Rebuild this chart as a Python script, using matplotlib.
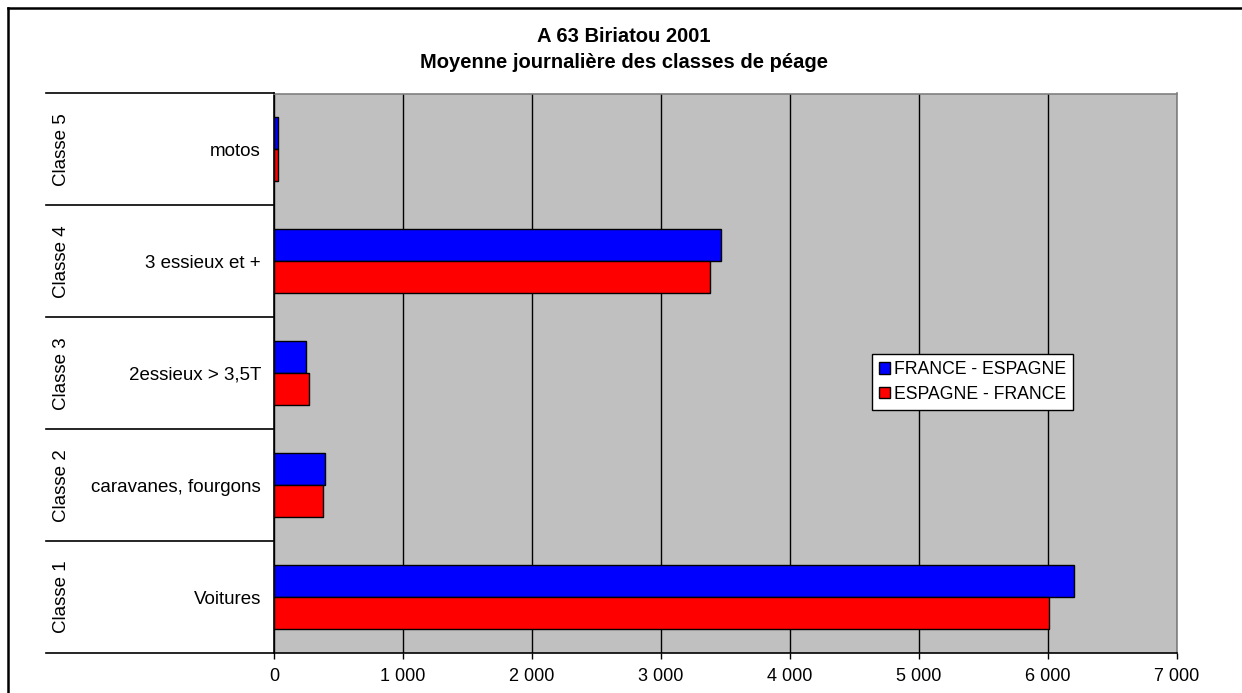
import matplotlib

matplotlib.use("Agg")
import matplotlib.pyplot as plt
import matplotlib.transforms as mtransforms
import numpy as np
from matplotlib.lines import Line2D

plt.rcParams["font.family"] = ["Liberation Sans", "DejaVu Sans"]

TITLE = "A 63 Biriatou 2001\nMoyenne journalière des classes de péage"

# bottom -> top, as drawn
classes = ["Classe 1", "Classe 2", "Classe 3", "Classe 4", "Classe 5"]
vehicles = ["Voitures", "caravanes, fourgons", "2essieux > 3,5T", "3 essieux et +", "motos"]
france_espagne = [6206, 398, 248, 3464, 29]
espagne_france = [6007, 378, 269, 3384, 31]
series_names = ["FRANCE - ESPAGNE", "ESPAGNE - FRANCE"]
x_ticks = [0, 1000, 2000, 3000, 4000, 5000, 6000, 7000]

W, H = 1242, 693


def px_x(x):
    return x / W


def px_y(y):
    return 1 - y / H


def main() -> None:
    fig = plt.figure(figsize=(W / 100, H / 100), dpi=100)
    ax = fig.add_axes([px_x(274), px_y(653), px_x(1176.7 - 274), (653 - 93.5) / H])
    ax.set_facecolor("#c0c0c0")

    pos = np.arange(len(vehicles))
    h = 1 / 3.5  # Excel gap width 150%
    ax.barh(pos + h / 2, france_espagne, height=h, color="#0000ff",
            edgecolor="black", linewidth=1, label=series_names[0], zorder=3)
    ax.barh(pos - h / 2, espagne_france, height=h, color="#ff0000",
            edgecolor="black", linewidth=1, label=series_names[1], zorder=3)

    ax.set_xlim(x_ticks[0], x_ticks[-1])
    ax.set_ylim(-0.5, len(vehicles) - 0.5)
    ax.set_xticks(x_ticks)
    ax.set_xticklabels([f"{v:,}".replace(",", " ") for v in x_ticks], fontsize=13)
    ax.tick_params(axis="x", direction="out", length=4.5, width=1, pad=6, color="black")
    ax.set_yticks(pos)
    ax.set_yticklabels(vehicles, fontsize=13.5)
    ax.tick_params(axis="y", length=0, pad=9.4)
    ax.xaxis.grid(True, color="black", linewidth=1, zorder=1)
    ax.set_axisbelow(True)

    for side in ("top", "right"):
        ax.spines[side].set_color("#808080")
        ax.spines[side].set_linewidth(1.2)
    for side in ("left", "bottom"):
        ax.spines[side].set_color("black")
        ax.spines[side].set_linewidth(1.2)

    # second level of the category axis
    blend = mtransforms.blended_transform_factory(fig.transFigure, ax.transData)
    for p, name in zip(pos, classes):
        fig.text(px_x(61), p, name, transform=blend, rotation=90,
                 ha="center", va="center", fontsize=13.5)
    for b in np.arange(-0.5, len(vehicles), 1.0):
        fig.add_artist(Line2D([px_x(46), px_x(274)], [b, b], transform=blend,
                              color="black", linewidth=1.2))

    fig.text(px_x(623.5), px_y(49.5), TITLE, ha="center", va="center",
             fontsize=14.5, fontweight="bold", linespacing=1.5)

    leg = ax.legend(loc="upper left", bbox_to_anchor=(px_x(871.7), px_y(354)),
                    bbox_transform=fig.transFigure, borderaxespad=0, fontsize=12.7,
                    frameon=True, fancybox=False, framealpha=1, edgecolor="black",
                    handlelength=0.62, handleheight=0.62, handletextpad=0.25,
                    labelspacing=0.45, borderpad=0.4)
    leg.get_frame().set_linewidth(1)

    # chart area frame (cropped on the right and bottom)
    fig.add_artist(Line2D([px_x(8), 1], [px_y(8), px_y(8)], color="black", linewidth=1.8))
    fig.add_artist(Line2D([px_x(8), px_x(8)], [0, px_y(8)], color="black", linewidth=1.8))

    fig.savefig("out.png", dpi=100)
    plt.close(fig)


if __name__ == "__main__":
    main()
